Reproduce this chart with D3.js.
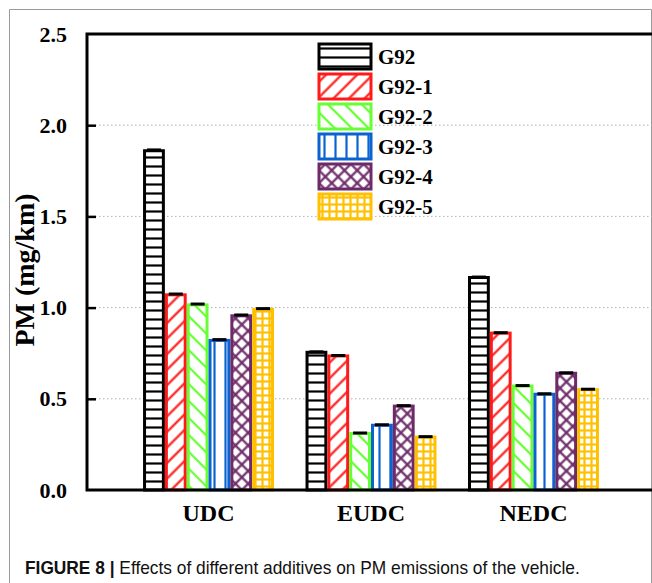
<!DOCTYPE html>
<html>
<head>
<meta charset="utf-8">
<script src="https://cdn.jsdelivr.net/npm/d3@7"></script>
<style>
  body { margin: 0; background: #fff; }
  svg { display: block; }
</style>
</head>
<body>
<div id="chart"></div>
<script>
// cycles and additive series
var cycles = ["UDC", "EUDC", "NEDC"];
var seriesNames = ["G92", "G92-1", "G92-2", "G92-3", "G92-4", "G92-5"];
var g92   = [1.86, 0.755, 1.165];
var g92_1 = [1.07, 0.735, 0.86];
var g92_2 = [1.015, 0.31, 0.57];
var g92_3 = [0.82, 0.355, 0.525];
var g92_4 = [0.955, 0.46, 0.64];
var g92_5 = [0.99, 0.29, 0.55];
var errs  = [0.01, 0.008, 0.008];
var yTicks = [0, 0.5, 1.0, 1.5, 2.0, 2.5];

var values = [g92, g92_1, g92_2, g92_3, g92_4, g92_5];
var colors = ["#000000", "#ff1a1a", "#66ff33", "#0a63d0", "#6e2a68", "#ffc000"];

var W = 652, H = 583;
var margin = {left: 87, top: 34, right: -3, bottom: 93};

var svg = d3.select("#chart")
    .append("svg")
    .attr("width", W)
    .attr("height", H);

// frame round the figure
svg.append("path")
    .attr("d", "M9.5,583 V9.5 H651.5 V583")
    .attr("fill", "none")
    .attr("stroke", "#9a9a9a")
    .attr("stroke-width", 1);

var defs = svg.append("defs");

function linePattern(id, color, size, angle, sw) {
    var p = defs.append("pattern")
        .attr("id", id)
        .attr("patternUnits", "userSpaceOnUse")
        .attr("width", size)
        .attr("height", size)
        .attr("patternTransform", "rotate(" + angle + ")");
    p.append("rect").attr("width", size).attr("height", size).attr("fill", "#fff");
    p.append("line")
        .attr("x1", size / 2).attr("x2", size / 2)
        .attr("y1", 0).attr("y2", size)
        .attr("stroke", color).attr("stroke-width", sw);
    return p;
}

function gridPattern(id, color, size, angle, sw) {
    var p = linePattern(id, color, size, angle, sw);
    p.append("line")
        .attr("y1", size / 2).attr("y2", size / 2)
        .attr("x1", 0).attr("x2", size)
        .attr("stroke", color).attr("stroke-width", sw);
}

linePattern("p0", colors[0], 9, 90, 2.2);
linePattern("p1", colors[1], 11, 45, 2.2);
linePattern("p2", colors[2], 12, -45, 2.2);
linePattern("p3", colors[3], 11, 0, 2.2);
gridPattern("p4", colors[4], 9, 45, 2.2);
gridPattern("p5", colors[5], 7, 0, 2.2);

var y = d3.scaleLinear()
    .domain([0, 2.5])
    .range([H - margin.bottom, margin.top]);

var x0 = d3.scaleBand()
    .domain(cycles)
    .range([margin.left, W - margin.right])
    .paddingInner(0.194)
    .paddingOuter(0.345);

var x1 = d3.scaleBand()
    .domain(seriesNames)
    .range([0, x0.bandwidth()]);

// dotted grid lines
svg.append("g")
    .selectAll("line")
    .data(yTicks.filter(function(d) { return d > 0 && d < 2.5; }))
    .enter()
    .append("line")
    .attr("x1", margin.left)
    .attr("x2", W)
    .attr("y1", function(d) { return y(d); })
    .attr("y2", function(d) { return y(d); })
    .attr("stroke", "#b0b0b0")
    .attr("stroke-width", 1)
    .attr("stroke-dasharray", "1.5,2.5");

// bars
var groups = svg.append("g")
    .selectAll("g")
    .data(seriesNames)
    .enter()
    .append("g");

groups.each(function(name, si) {
    var g = d3.select(this);
    var rows = cycles.map(function(c, ci) {
        return {cycle: c, v: values[si][ci], e: errs[ci]};
    });
    g.selectAll("rect")
        .data(rows)
        .enter()
        .append("rect")
        .attr("x", function(d) { return x0(d.cycle) + x1(name) + 1.5; })
        .attr("y", function(d) { return y(d.v); })
        .attr("width", x1.bandwidth() - 3)
        .attr("height", function(d) { return y(0) - y(d.v); })
        .attr("fill", "url(#p" + si + ")")
        .attr("stroke", colors[si])
        .attr("stroke-width", 3);

    // small error caps
    g.selectAll("line.cap")
        .data(rows)
        .enter()
        .append("line")
        .attr("class", "cap")
        .attr("x1", function(d) { return x0(d.cycle) + x1(name) + x1.bandwidth() / 2 - 7; })
        .attr("x2", function(d) { return x0(d.cycle) + x1(name) + x1.bandwidth() / 2 + 7; })
        .attr("y1", function(d) { return y(d.v + d.e) + 1; })
        .attr("y2", function(d) { return y(d.v + d.e) + 1; })
        .attr("stroke", "#000")
        .attr("stroke-width", 3);
});

// axes, ticks pointing inward
var yAxis = d3.axisLeft(y)
    .tickValues(yTicks)
    .tickSize(-9)
    .tickPadding(20)
    .tickFormat(d3.format(".1f"));

var ya = svg.append("g")
    .attr("transform", "translate(" + margin.left + ",0)")
    .call(yAxis);
ya.select(".domain").remove();
ya.selectAll(".tick line").attr("stroke", "#000").attr("stroke-width", 2.5)
    .filter(function(d) { return d === 2.5 || d === 0; }).remove();
ya.selectAll(".tick text")
    .attr("font-family", "'Liberation Serif', 'Times New Roman', serif")
    .attr("font-weight", "bold")
    .attr("font-size", 22)
    .attr("fill", "#000");

var xAxis = d3.axisBottom(x0).tickSize(0).tickPadding(14);
var xa = svg.append("g")
    .attr("transform", "translate(0," + y(0) + ")")
    .call(xAxis);
xa.select(".domain").remove();
xa.selectAll(".tick text")
    .attr("font-family", "'Liberation Serif', 'Times New Roman', serif")
    .attr("font-weight", "bold")
    .attr("font-size", 24)
    .attr("fill", "#000");

// plot box (left, top, bottom)
svg.append("path")
    .attr("d", "M" + W + "," + y(2.5) + " H" + margin.left + " V" + y(0) + " H" + W)
    .attr("fill", "none")
    .attr("stroke", "#000")
    .attr("stroke-width", 3);

// y title
svg.append("text")
    .attr("transform", "translate(34," + 270 + ") rotate(-90)")
    .attr("text-anchor", "middle")
    .attr("font-family", "'Liberation Serif', 'Times New Roman', serif")
    .attr("font-weight", "bold")
    .attr("font-size", 28)
    .text("PM (mg/km)");

// legend
var legend = svg.append("g")
    .selectAll("g")
    .data(seriesNames)
    .enter()
    .append("g")
    .attr("transform", function(d, i) { return "translate(319," + (44 + i * 30) + ")"; });

legend.append("rect")
    .attr("width", 52)
    .attr("height", 25)
    .attr("fill", function(d, i) { return "url(#p" + i + ")"; })
    .attr("stroke", function(d, i) { return colors[i]; })
    .attr("stroke-width", 3);

legend.append("text")
    .attr("x", 59)
    .attr("y", 20)
    .attr("font-family", "'Liberation Serif', 'Times New Roman', serif")
    .attr("font-weight", "bold")
    .attr("font-size", 21)
    .text(function(d) { return d; });

// caption, squeezed to the width it has in the figure
var cap = svg.append("text")
    .attr("x", 0)
    .attr("y", 0)
    .attr("font-family", "'Liberation Sans', Arial, sans-serif")
    .attr("font-size", 18)
    .attr("fill", "#111");
cap.append("tspan").attr("font-weight", "bold").text("FIGURE 8 | ");
cap.append("tspan").text("Effects of different additives on PM emissions of the vehicle.");
var cw = cap.node().getComputedTextLength();
cap.attr("transform", "translate(25,574) scale(" + (555 / cw) + ",1)");
</script>
</body>
</html>
